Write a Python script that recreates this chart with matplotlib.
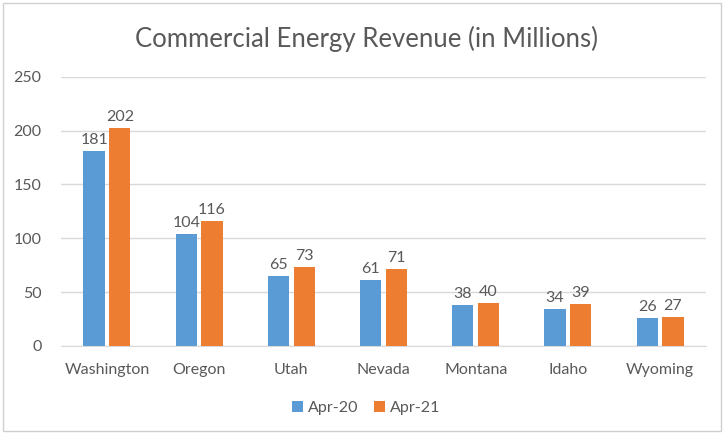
import matplotlib.pyplot as plt
import numpy as np
from matplotlib.patches import Rectangle

states = ["Washington", "Oregon", "Utah", "Nevada", "Montana", "Idaho", "Wyoming"]
apr20 = [181, 104, 65, 61, 38, 34, 26]
apr21 = [202, 116, 73, 71, 40, 39, 27]
series_labels = ["Apr-20", "Apr-21"]
y_ticks = [0, 50, 100, 150, 200, 250]

BLUE = "#5B9BD5"
ORANGE = "#ED7D31"
TEXT = "#595959"

plt.rcParams["font.family"] = ["Lato", "DejaVu Sans"]

fig = plt.figure(figsize=(7.25, 4.34), dpi=100)
ax = fig.add_axes([0.084, 0.203, 0.890, 0.620])

x = np.arange(len(states))
w = 0.23
gap = 0.025
b1 = ax.bar(x - w / 2 - gap, apr20, width=w, color=BLUE, label=series_labels[0], zorder=3)
b2 = ax.bar(x + w / 2 + gap, apr21, width=w, color=ORANGE, label=series_labels[1], zorder=3)

for bars in (b1, b2):
    ax.bar_label(bars, padding=3, fontsize=11.5, color=TEXT)

ax.set_xlim(-0.5, len(states) - 0.5)
ax.set_ylim(0, 250)
ax.set_yticks(y_ticks)
ax.set_xticks(x)
ax.set_xticklabels(states)
ax.tick_params(axis="both", length=0, labelsize=11.5, labelcolor=TEXT)
ax.tick_params(axis="y", pad=14)
ax.tick_params(axis="x", pad=12)
ax.grid(axis="y", color="#D9D9D9", linewidth=1, zorder=0)
for side in ("top", "right", "left"):
    ax.spines[side].set_visible(False)
ax.spines["bottom"].set_color("#D9D9D9")

fig.text(0.505, 0.91, "Commercial Energy Revenue (in Millions)",
         ha="center", va="center", fontsize=18.5, color=TEXT)

fig.legend(handles=[b1, b2], labels=series_labels, loc="center",
           bbox_to_anchor=(0.505, 0.06), ncol=2, frameon=False,
           fontsize=11.5, labelcolor=TEXT, handlelength=0.7, handleheight=0.7,
           handletextpad=0.3, columnspacing=1.0)

fig.patches.append(Rectangle((0.004, 0.006), 0.99, 0.987, transform=fig.transFigure,
                             fill=False, edgecolor="#D0D0D0", linewidth=1))

fig.savefig("out.png", dpi=100)
